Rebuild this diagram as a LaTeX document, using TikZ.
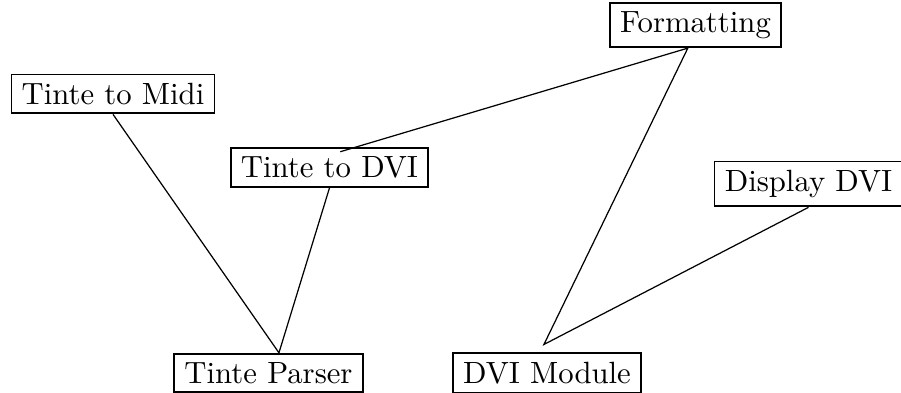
\documentclass[tikz,border=0pt]{standalone}
\usepackage{amsmath}
\usepackage{tikz}
\usetikzlibrary{arrows}
\usetikzlibrary{shapes}

\begin{document}
\begin{tikzpicture}[x = 0.3255pt, y = -0.3255pt,
        module/.style = {draw, line width = 0.6pt, inner xsep = 3.33pt, inner ysep = 2.8pt}]
        \useasboundingbox (0, 0) rectangle (901, 393);

        \node[module] (midi) at (113, 94) {Tinte to Midi};
        \node[module] (tdvi) at (329.5, 167.5) {Tinte to DVI};
        \node[module] (fmt) at (695.5, 25) {Formatting};
        \node[module] (disp) at (808.5, 184) {Display DVI};
        \node[module] (parser) at (268.5, 373) {Tinte Parser};
        \node[module] (dvimod) at (547, 373) {DVI Module};

        \coordinate (partip) at ([xshift = 3.4pt]parser.north);
        \coordinate (modtip) at ([xshift = -1pt, yshift = 2.6pt]dvimod.north);
        \coordinate (fmttip) at ([xshift = -2.5pt]fmt.south);

        \draw (midi.south) -- (partip) -- (tdvi.south);
        \draw ([xshift = 3.5pt, yshift = -1.5pt]tdvi.north) -- (fmttip) -- (modtip) -- (disp.south);
    \end{tikzpicture}
\end{document}
